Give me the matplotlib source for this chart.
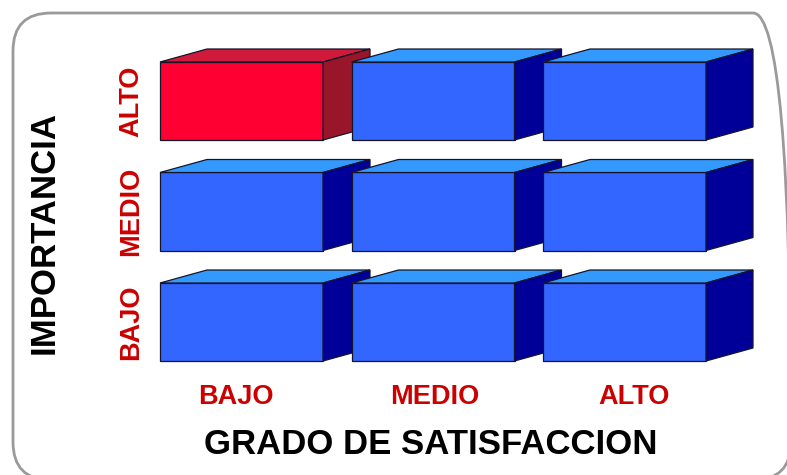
import matplotlib
matplotlib.use('Agg')
import matplotlib.pyplot as plt
from matplotlib.patches import Polygon, FancyBboxPatch

# categories
satisfaccion = ["BAJO", "MEDIO", "ALTO"]   # x axis (columns)
importancia = ["BAJO", "MEDIO", "ALTO"]    # y axis (rows, bottom to top)
# 1 = highlighted (red) cell, rows follow importancia, columns follow satisfaccion
highlight = [[0, 0, 0],
             [0, 0, 0],
             [1, 0, 0]]

plt.rcParams['font.family'] = ['Liberation Sans', 'DejaVu Sans']

W_PX, H_PX = 787, 475
COL_PX, ROW_PX = 191.5, 110.5      # pixel size of one category step
X0_PX, Y0_PX = 160, 361            # pixel position of first box front (bottom-left)

fig = plt.figure(figsize=(W_PX / 100, H_PX / 100), dpi=100)
ax = fig.add_axes([0, 0, 1, 1])
ax.set_xlim(-X0_PX / COL_PX, (W_PX - X0_PX) / COL_PX)
ax.set_ylim(-(H_PX - Y0_PX) / ROW_PX, Y0_PX / ROW_PX)
ax.axis('off')


def px(x, y):
    # pixel position -> data coords (for text placement)
    return (x - X0_PX) / COL_PX, (Y0_PX - y) / ROW_PX


# box geometry in category units
bw, bh = 163 / COL_PX, 78 / ROW_PX
dx, dy = 47 / COL_PX, 13 / ROW_PX

blue = ('#3366ff', '#3399ff', '#000099')
red = ('#ff0033', '#d01a3c', '#99152a')
edge = '#15152a'

for i, s in enumerate(satisfaccion):
    for j, imp in enumerate(importancia):
        front_c, top_c, side_c = red if highlight[j][i] else blue
        x, y = i, j
        front = [(x, y), (x + bw, y), (x + bw, y + bh), (x, y + bh)]
        top = [(x, y + bh), (x + bw, y + bh), (x + bw + dx, y + bh + dy), (x + dx, y + bh + dy)]
        side = [(x + bw, y), (x + bw + dx, y + dy), (x + bw + dx, y + bh + dy), (x + bw, y + bh)]
        z = 2 + i
        for pts, c in ((front, front_c), (top, top_c), (side, side_c)):
            ax.add_patch(Polygon(pts, closed=True, facecolor=c, edgecolor=edge,
                                 linewidth=0.9, zorder=z))

lab_red = '#cc0000'
# labels sit slightly spread out relative to the box fronts
for i, s in enumerate(satisfaccion):
    tx, ty = i * 1.04 - 0.03 + bw / 2, px(0, 397)[1]
    ax.text(tx, ty, s, ha='center', va='center', color=lab_red,
            fontsize=19.5, fontweight='bold')
for j, imp in enumerate(importancia):
    ax.text(px(131, 0)[0], j + bh / 2, imp, ha='center', va='center', color=lab_red,
            fontsize=19.5, fontweight='bold', rotation=90)

ax.text(*px(431, 444), "GRADO DE SATISFACCION", ha='center', va='center',
        color='black', fontsize=25, fontweight='bold')
ax.text(*px(44, 233), "IMPORTANCIA", ha='center', va='center', rotation=90,
        color='black', fontsize=25, fontweight='bold')

# rounded frame (in inches from figure bottom-left)
frame = FancyBboxPatch((0.13, -0.05), 7.78, 4.67,
                       boxstyle='round,pad=0,rounding_size=0.38',
                       transform=fig.dpi_scale_trans, facecolor='none',
                       edgecolor='#9a9a9a', linewidth=2.0, zorder=1)
ax.add_patch(frame)

fig.savefig('out.png', dpi=100)
